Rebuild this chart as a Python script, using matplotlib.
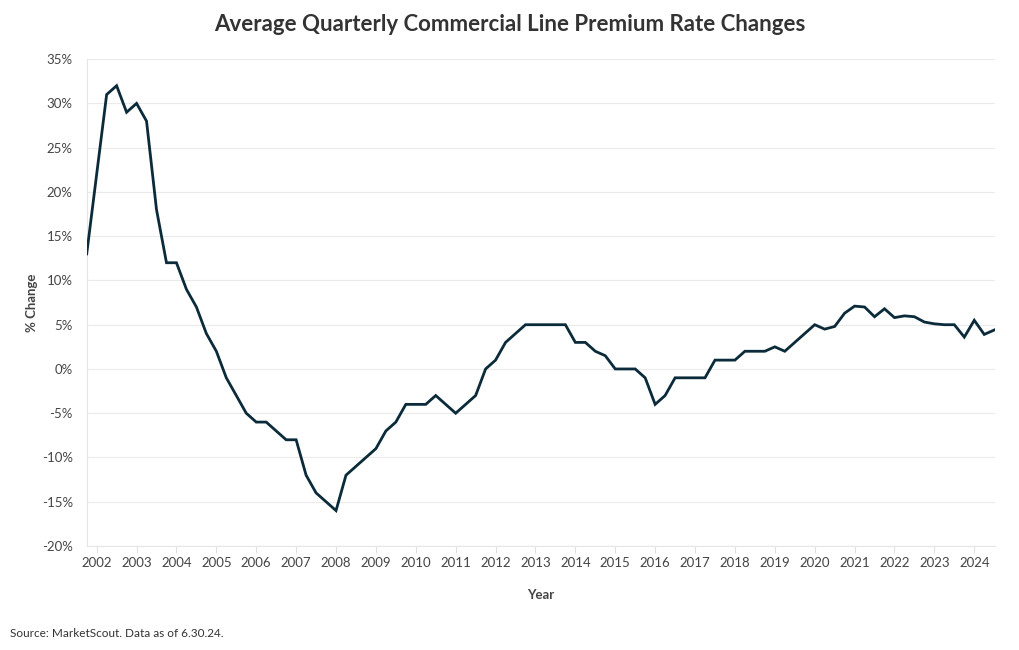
import matplotlib
matplotlib.use("Agg")
import matplotlib.pyplot as plt
from matplotlib.ticker import FuncFormatter

plt.rcParams['font.family'] = ['Lato', 'DejaVu Sans']

start_year = 2001.75
values = [13, 22, 31, 32, 29, 30, 28, 18, 12, 12, 9, 7, 4, 2, -1, -3, -5, -6, -6, -7,
          -8, -8, -12, -14, -15, -16, -12, -11, -10, -9, -7, -6, -4, -4, -4, -3, -4, -5,
          -4, -3, 0, 1, 3, 4, 5, 5, 5, 5, 5, 3, 3, 2, 1.5, 0, 0, 0, -1, -4, -3, -1,
          -1, -1, -1, 1, 1, 1, 2, 2, 2, 2.5, 2, 3, 4, 5, 4.5, 4.8, 6.3, 7.1, 7.0, 5.9,
          6.8, 5.8, 6.0, 5.9, 5.3, 5.1, 5.0, 5.0, 3.6, 5.5, 3.9, 4.4]
dates = [start_year + 0.25 * i for i in range(len(values))]
year_ticks = list(range(2002, 2025))
y_ticks = list(range(-20, 36, 5))

fig = plt.figure(figsize=(10.2, 6.5), dpi=100)
ax = fig.add_axes([0.085, 0.16, 0.8905, 0.749])

ax.plot(dates, values, color='#0b2b3a', linewidth=2.0, solid_joinstyle='miter', zorder=3)

ax.set_xlim(2001.75, 2024.52)
ax.set_ylim(-20, 35)
ax.set_xticks(year_ticks)
ax.set_xticklabels([str(y) for y in year_ticks])
ax.set_yticks(y_ticks)
ax.yaxis.set_major_formatter(FuncFormatter(lambda v, p: f"{int(v)}%"))

ax.grid(axis='y', color='#ebebeb', linewidth=0.8)
ax.set_axisbelow(True)
for s in ['top', 'right']:
    ax.spines[s].set_visible(False)
ax.spines['left'].set_color('#e6e6e6')
ax.spines['bottom'].set_color('#e6e6e6')
ax.spines['left'].set_linewidth(0.8)
ax.spines['bottom'].set_linewidth(0.8)
ax.tick_params(axis='x', length=5, color='#e0e0e0', labelsize=9.5, labelcolor='#444444', pad=3)
ax.tick_params(axis='y', length=0, labelsize=9.5, labelcolor='#444444', pad=10)

ax.set_xlabel('Year', fontsize=9.5, fontweight='bold', color='#444444', labelpad=14)
ax.set_ylabel('% Change', fontsize=9.5, fontweight='bold', color='#444444', labelpad=3)

fig.text(0.5, 0.963, 'Average Quarterly Commercial Line Premium Rate Changes',
         ha='center', va='center', fontsize=16, fontweight='bold', color='#333333')
fig.text(0.01, 0.026, 'Source: MarketScout. Data as of 6.30.24.', ha='left', va='center',
         fontsize=8.5, color='#333333')

fig.savefig('out.png', dpi=100)
